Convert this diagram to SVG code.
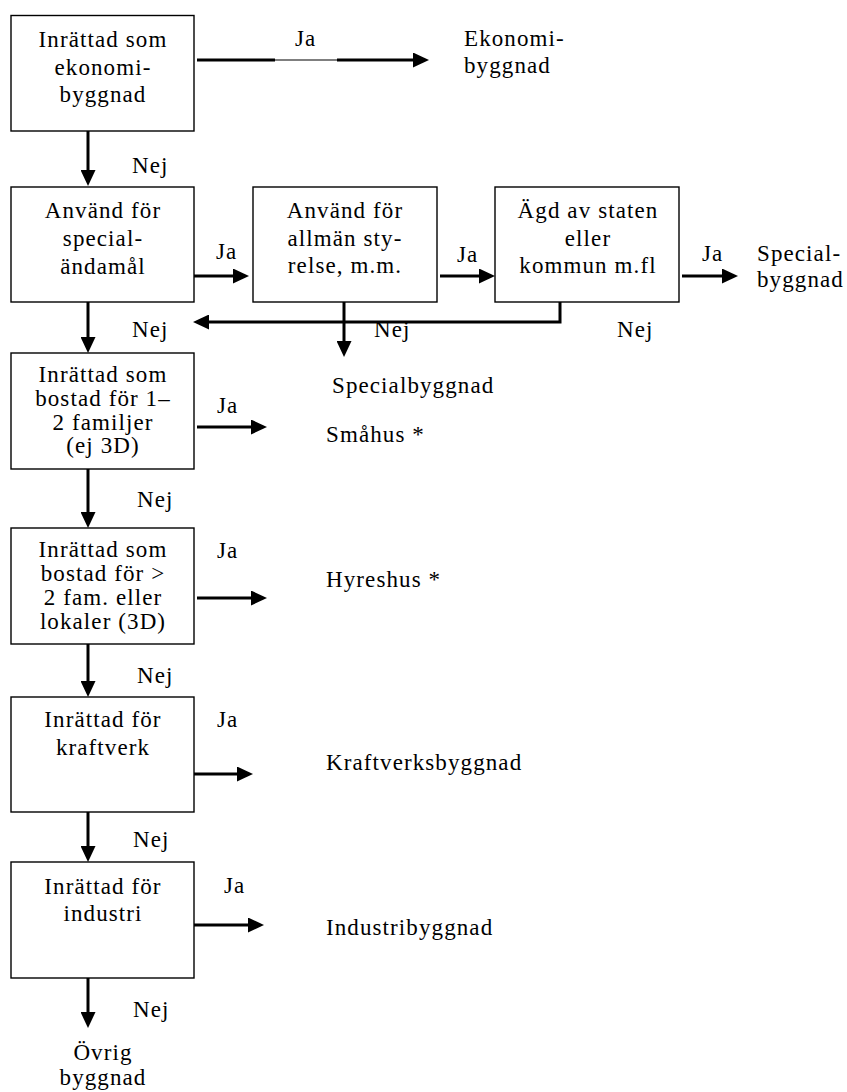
<svg xmlns="http://www.w3.org/2000/svg" width="847" height="1092" viewBox="0 0 847 1092">
<style>
  text { font-family: "Liberation Serif", "Times New Roman", serif; font-size: 23px; letter-spacing: 1.1px; fill: #000; }
  .c { text-anchor: middle; }
  .box { fill: #fff; stroke: #000; stroke-width: 1.4; }
  .ln { fill: none; stroke: #000; stroke-width: 3; }
  .thin { fill: none; stroke: #000; stroke-width: 1.2; }
</style>
<defs>
  <marker id="ah" markerUnits="userSpaceOnUse" viewBox="0 0 16 15" refX="6" refY="7.5" markerWidth="16" markerHeight="15" orient="auto">
    <polygon points="0,0 16,7.5 0,15" fill="#000"/>
  </marker>
</defs>
<rect width="847" height="1092" fill="#fff"/>

<g id="connectors">
  <line class="ln" x1="197" y1="60" x2="275" y2="60"/>
  <line class="thin" x1="275" y1="60" x2="337" y2="60"/>
  <line class="ln" x1="337" y1="60" x2="419" y2="60" marker-end="url(#ah)"/>
  <line class="ln" x1="88" y1="131" x2="88" y2="176" marker-end="url(#ah)"/>
  <line class="ln" x1="194" y1="276" x2="239" y2="276" marker-end="url(#ah)"/>
  <line class="ln" x1="440" y1="276" x2="485" y2="276" marker-end="url(#ah)"/>
  <line class="ln" x1="682" y1="276" x2="728" y2="276" marker-end="url(#ah)"/>
  <polyline class="ln" points="560,302 560,322 203,322" marker-end="url(#ah)"/>
  <line class="ln" x1="344" y1="302" x2="344" y2="347" marker-end="url(#ah)"/>
  <line class="ln" x1="88" y1="302" x2="88" y2="343" marker-end="url(#ah)"/>
  <line class="ln" x1="197" y1="427" x2="257" y2="427" marker-end="url(#ah)"/>
  <line class="ln" x1="88" y1="469" x2="88" y2="518" marker-end="url(#ah)"/>
  <line class="ln" x1="197" y1="598" x2="257" y2="598" marker-end="url(#ah)"/>
  <line class="ln" x1="88" y1="644" x2="88" y2="687" marker-end="url(#ah)"/>
  <line class="ln" x1="194" y1="774" x2="243" y2="774" marker-end="url(#ah)"/>
  <line class="ln" x1="88" y1="812" x2="88" y2="852" marker-end="url(#ah)"/>
  <line class="ln" x1="193" y1="925" x2="254" y2="925" marker-end="url(#ah)"/>
  <line class="ln" x1="88" y1="978" x2="88" y2="1018" marker-end="url(#ah)"/>
</g>

<g id="n1">
  <rect class="box" x="11" y="15.5" width="183" height="115.5"/>
  <text class="c" x="103" y="47">Inrättad som</text>
  <text class="c" x="103" y="75">ekonomi-</text>
  <text class="c" x="103" y="102">byggnad</text>
</g>
<g id="n2">
  <rect class="box" x="11" y="187" width="183" height="115"/>
  <text class="c" x="103" y="218">Använd för</text>
  <text class="c" x="103" y="246">special-</text>
  <text class="c" x="103" y="274">ändamål</text>
</g>
<g id="n2b">
  <rect class="box" x="253" y="187" width="184" height="115"/>
  <text class="c" x="345" y="218">Använd för</text>
  <text class="c" x="345" y="246">allmän sty-</text>
  <text class="c" x="345" y="273">relse, m.m.</text>
</g>
<g id="n2c">
  <rect class="box" x="495" y="187" width="184" height="115"/>
  <text class="c" x="588" y="218">Ägd av staten</text>
  <text class="c" x="588" y="246">eller</text>
  <text class="c" x="588" y="273">kommun m.fl</text>
</g>
<g id="n3">
  <rect class="box" x="11" y="353" width="183" height="116"/>
  <text class="c" x="103" y="382">Inrättad som</text>
  <text class="c" x="103" y="406">bostad för 1–</text>
  <text class="c" x="103" y="430">2 familjer</text>
  <text class="c" x="103" y="453">(ej 3D)</text>
</g>
<g id="n4">
  <rect class="box" x="11" y="528" width="183" height="116"/>
  <text class="c" x="103" y="557">Inrättad som</text>
  <text class="c" x="103" y="581">bostad för &gt;</text>
  <text class="c" x="103" y="605">2 fam. eller</text>
  <text class="c" x="103" y="629">lokaler (3D)</text>
</g>
<g id="n5">
  <rect class="box" x="11" y="697" width="183" height="115"/>
  <text class="c" x="103" y="727">Inrättad för</text>
  <text class="c" x="103" y="755">kraftverk</text>
</g>
<g id="n6">
  <rect class="box" x="11" y="862" width="183" height="116"/>
  <text class="c" x="103" y="894">Inrättad för</text>
  <text class="c" x="103" y="921">industri</text>
</g>

<g id="labels">
  <text x="295" y="46">Ja</text>
  <text x="464" y="46">Ekonomi-</text>
  <text x="464" y="73">byggnad</text>
  <text x="132" y="173">Nej</text>
  <text x="216" y="259">Ja</text>
  <text x="457" y="262">Ja</text>
  <text x="702" y="261">Ja</text>
  <text x="757" y="261">Special-</text>
  <text x="757" y="287">byggnad</text>
  <text x="132" y="337">Nej</text>
  <text x="374" y="337">Nej</text>
  <text x="617" y="337">Nej</text>
  <text x="332" y="393">Specialbyggnad</text>
  <text x="217" y="413">Ja</text>
  <text x="326" y="442">Småhus *</text>
  <text x="137" y="507">Nej</text>
  <text x="217" y="558">Ja</text>
  <text x="326" y="587">Hyreshus *</text>
  <text x="137" y="683">Nej</text>
  <text x="217" y="727">Ja</text>
  <text x="326" y="770">Kraftverksbyggnad</text>
  <text x="133" y="847">Nej</text>
  <text x="224" y="893">Ja</text>
  <text x="326" y="935">Industribyggnad</text>
  <text x="133" y="1017">Nej</text>
  <text class="c" x="103" y="1060">Övrig</text>
  <text class="c" x="103" y="1085">byggnad</text>
</g>
</svg>
